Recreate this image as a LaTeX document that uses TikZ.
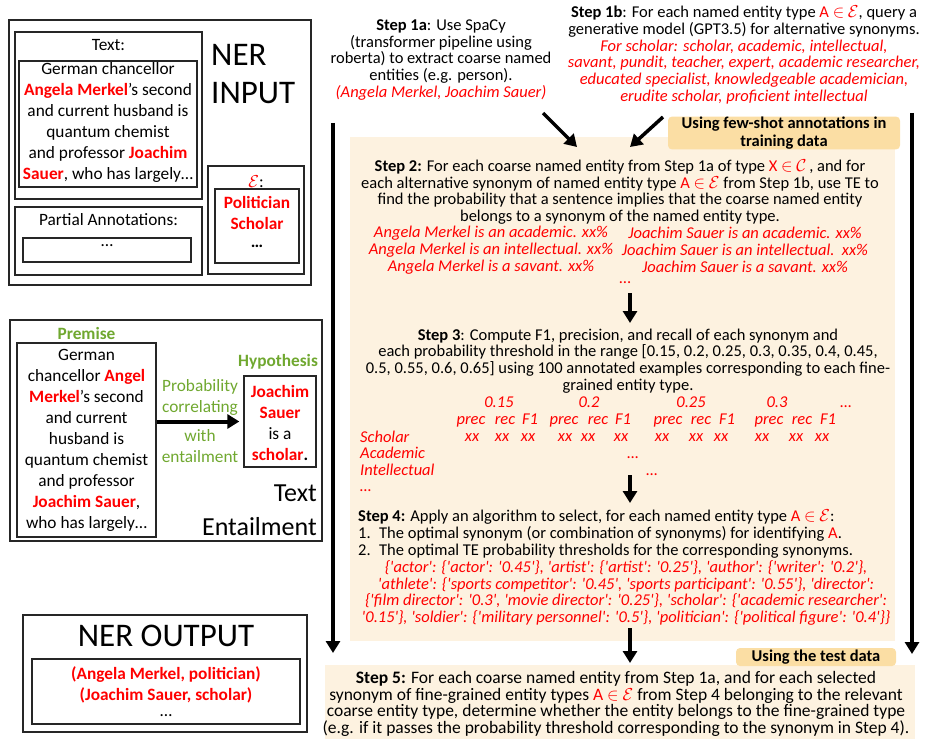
\documentclass[tikz,border=0pt]{standalone}
\usepackage{fontspec}
\setmainfont{Carlito}
\usetikzlibrary{arrows.meta}
\definecolor{beige}{RGB}{253,242,224}
\definecolor{tagor}{RGB}{251,222,164}
\definecolor{grn}{RGB}{112,168,48}
\definecolor{rd}{RGB}{255,0,0}
\newcommand\bodyfs{\fontsize{16.5}{16.7}\selectfont}
\newcommand\leftfs{\fontsize{17.3}{21}\selectfont}
\newcommand\rtx[1]{{\color{rd}#1}}
\newcommand\rbx[1]{{\color{rd}\bfseries #1}}
\newcommand\Aein{\rtx{A $\in$ $\mathcal{E}$}}
\newcommand\qq{\textquotesingle}
\begin{document}
\begin{tikzpicture}[x=1pt,y=-1pt,
  box/.style={draw=black!85, line width=1.3pt, inner sep=0pt},
  txt/.style={inner sep=0pt, align=center, font=\bodyfs},
  ltxt/.style={inner sep=0pt, align=center, font=\leftfs},
  rtab/.style={inner sep=0pt, anchor=base, font=\bodyfs\itshape, text=rd},
  arr/.style={line width=3.5pt, -{Triangle[length=12pt,width=14pt]}},
  tagbox/.style={fill=tagor, rounded corners=4pt, inner sep=0pt, align=center, font=\fontsize{16.5}{18.5}\selectfont\bfseries},
]
\useasboundingbox (0,0) rectangle (925,738);

% ---------- NER INPUT ----------
\node[box, minimum width=302, minimum height=265] (nerin) at (160,152.5) {};
\node[box, minimum width=187, minimum height=167] (textbox) at (108.5,115.5) {};
\node[ltxt] (textlbl) at (108.5,45) {Text:};
\node[box, minimum width=178, minimum height=126] (textin) at (108,124) {};
\node[ltxt] (sent) at (108,122.5) {German chancellor\\\rbx{Angela Merkel}’s second\\and current husband is\\quantum chemist\\and professor \rbx{Joachim}\\\rbx{Sauer}, who has largely\ldots};
\node[anchor=west, align=left, inner sep=0pt, font=\fontsize{33}{38}\selectfont] (nerlbl) at (211,74) {NER\\INPUT};
\node[box, minimum width=187, minimum height=68] (partbox) at (108.5,241) {};
\node[ltxt] (partlbl) at (108.5,220) {Partial Annotations:};
\node[box, minimum width=168, minimum height=24] (partin) at (107,250) {};
\node[ltxt] (partdots) at (107,246) {\ldots};
\node[box, minimum width=96, minimum height=108] (ebox) at (256,220) {};
\node[ltxt] (elbl) at (256,182) {\rtx{$\mathcal{E}$}:};
\node[box, minimum width=84, minimum height=74] (ein) at (257,226) {};
\node[ltxt, font=\leftfs\bfseries, text=rd] (etypes) at (257,212.5) {Politician\\Scholar};
\node[ltxt, font=\leftfs\bfseries] (edots) at (257,246) {\ldots};

% ---------- Text Entailment ----------
\node[box, minimum width=312, minimum height=221] (teout) at (166,430.5) {};
\node[inner sep=0pt, font=\leftfs\bfseries, text=grn] (premlbl) at (86.5,333) {Premise};
\node[box, minimum width=139, minimum height=194] (prem) at (86.5,440) {};
\node[ltxt] (premtxt) at (86.5,440.5) {German\\chancellor \rbx{Angel}\\\rbx{Merkel}’s second\\and current\\husband is\\quantum chemist\\and professor\\\rbx{Joachim Sauer},\\who has largely\ldots};
\node[inner sep=0pt, font=\leftfs\bfseries, text=grn] (hyplbl) at (278,362) {Hypothesis};
\node[box, minimum width=72, minimum height=91] (hyp) at (280,421.5) {};
\node[ltxt] (hyptxt) at (280,422.5) {\rbx{Joachim}\\\rbx{Sauer}\\is a\\\textbf{\rtx{scholar}.}};
\draw[arr, line width=4pt] (prem.east |- hyp.west) -- ([xshift=-4pt]hyp.west);
\node[ltxt, text=grn] (prob) at (200,397.5) {Probability\\correlating};
\node[ltxt, text=grn] (withe) at (200,446.5) {with\\entailment};
\node[anchor=east, align=right, inner sep=0pt, font=\fontsize{26}{34}\selectfont] (telbl) at (317,510) {Text\\Entailment};

% ---------- NER OUTPUT ----------
\node[box, minimum width=284, minimum height=117] (nerout) at (165,673.5) {};
\node[inner sep=0pt, font=\fontsize{33}{38}\selectfont] (noutlbl) at (166,636) {NER OUTPUT};
\node[box, minimum width=268, minimum height=65] (outin) at (166,691.5) {};
\node[ltxt, font=\leftfs\bfseries, text=rd] (outtxt) at (166,684.5) {(Angela Merkel, politician)\\(Joachim Sauer, scholar)};
\node[ltxt] (outdots) at (166,716) {\ldots};

% ---------- right side backgrounds ----------
\node[fill=beige, minimum width=545, minimum height=504, inner sep=0pt] (mainbg) at (622.5,389) {};
\node[fill=beige, minimum width=590, minimum height=75, inner sep=0pt] (s5bg) at (620,702.5) {};
\node[tagbox, minimum width=232, minimum height=32] (tag1) at (784,133) {Using few-shot annotations in\\training data};
\node[tagbox, minimum width=160, minimum height=18] (tag2) at (816,657) {Using the test data};

% ---------- steps ----------
\node[txt] (s1a) at (441,60) {\textbf{Step 1a}: Use SpaCy\\(transformer pipeline using\\roberta) to extract coarse named\\entities (e.g. person).\\\rtx{\itshape (Angela Merkel, Joachim Sauer)}};
\node[txt] (s1b) at (744,55) {\textbf{Step 1b}: For each named entity type \Aein, query a\\generative model (GPT3.5) for alternative synonyms.\\\rtx{\itshape For scholar: scholar, academic, intellectual,}\\\rtx{\itshape savant, pundit, teacher, expert, academic researcher,}\\\rtx{\itshape educated specialist, knowledgeable academician,}\\\rtx{\itshape erudite scholar, proficient intellectual}};
\node[txt] (s2) at (620,192) {\textbf{Step 2:} For each coarse named entity from Step 1a of type \rtx{X $\in$ $\mathcal{C}$}\,, and for\\each alternative synonym of named entity type \Aein{} from Step 1b, use TE to\\find the probability that a sentence implies that the coarse named entity\\belongs to a synonym of the named entity type.};
\node[txt, font=\bodyfs\itshape, text=rd] (s2l) at (491,250) {Angela Merkel is an academic. xx\%\\Angela Merkel is an intellectual. xx\%\\Angela Merkel is a savant. xx\%};
\node[txt, font=\bodyfs\itshape, text=rd] (s2r) at (745,250) {Joachim Sauer is an academic. xx\%\\Joachim Sauer is an intellectual.\ \ xx\%\\Joachim Sauer is a savant. xx\%};
\node[txt, text=rd] (s2dots) at (625,283) {\ldots};
\node[txt] (s3) at (628,361) {\textbf{Step 3}: Compute F1, precision, and recall of each synonym and\\each probability threshold in the range [0.15, 0.2, 0.25, 0.3, 0.35, 0.4, 0.45,\\0.5, 0.55, 0.6, 0.65] using 100 annotated examples corresponding to each fine-\\grained entity type.};
\foreach \x/\t [count=\i] in {499/0.15, 589/0.2, 691/0.25, 777/0.3, 846/\ldots}
  \node[rtab] (th\i) at (\x,407) {\t};
\foreach \x/\t [count=\i] in {471/prec, 505/rec, 530/F1, 564/prec, 598/rec, 623/F1, 668/prec, 701/rec, 727/F1, 769/prec, 802/rec, 828/F1}
  \node[rtab] (pr\i) at (\x,424) {\t};
\foreach \x [count=\i] in {472,502,528,565,588,621,662,696,721,762,796,822}
  \node[rtab] (xx\i) at (\x,441) {xx};
\node[rtab, anchor=base west] (lsch) at (360,442) {Scholar};
\node[rtab, anchor=base west] (laca) at (360,458) {Academic};
\node[rtab, anchor=base west] (lint) at (360,475) {Intellectual};
\node[rtab, anchor=base west] (ldot) at (360,491) {\ldots};
\node[rtab] (adot) at (633,458) {\ldots};
\node[rtab] (idot) at (652,475) {\ldots};
\node[txt, align=left, anchor=west] (s4) at (358,534) {\textbf{Step 4:} Apply an algorithm to select, for each named entity type \Aein:\\\makebox[21pt][l]{1.}The optimal synonym (or combination of synonyms) for identifying \rtx{A}.\\\makebox[21pt][l]{2.}The optimal TE probability thresholds for the corresponding synonyms.};
\node[txt, font=\fontsize{16.5}{16.5}\selectfont\itshape, text=rd] (s4red) at (626,593) {\{\qq actor\qq: \{\qq actor\qq: \qq 0.45\qq\}, \qq artist\qq: \{\qq artist\qq: \qq 0.25\qq\}, \qq author\qq: \{\qq writer\qq: \qq 0.2\qq\},\\\qq athlete\qq: \{\qq sports competitor\qq: \qq 0.45\qq, \qq sports participant\qq: \qq 0.55\qq\}, \qq director\qq:\\\{\qq film director\qq: \qq 0.3\qq, \qq movie director\qq: \qq 0.25\qq\}, \qq scholar\qq: \{\qq academic researcher\qq:\\\qq 0.15\qq\}, \qq soldier\qq: \{\qq military personnel\qq: \qq 0.5\qq\}, \qq politician\qq: \{\qq political figure\qq: \qq 0.4\qq\}\}};
\node[txt, font=\fontsize{17.5}{16.7}\selectfont] (s5) at (616,704) {\textbf{Step 5:} For each coarse named entity from Step 1a, and for each selected\\synonym of fine-grained entity types \Aein{} from Step 4 belonging to the relevant\\coarse entity type, determine whether the entity belongs to the fine-grained type\\(e.g. if it passes the probability threshold corresponding to the synonym in Step 4).};

% ---------- connectors ----------
\coordinate (lbtop) at (333,123); \coordinate (lbend) at (333,653);
\coordinate (rbtop) at (912,113); \coordinate (rbend) at (912,654);
\draw[arr, line width=4pt] (lbtop) -- (lbend);
\draw[arr, line width=4pt] (rbtop) -- (rbend);
\coordinate (a1s) at (543,113); \coordinate (a1e) at (577,147);
\coordinate (b1s) at (663,117); \coordinate (b1e) at (630,147);
\draw[arr] (a1s) -- (a1e);
\draw[arr] (b1s) -- (b1e);
\coordinate (c23s) at (630,293); \coordinate (c23e) at (630,323);
\coordinate (c34s) at (630,475); \coordinate (c34e) at (630,503);
\coordinate (c45s) at (630,628); \coordinate (c45e) at (630,663);
\draw[arr] (c23s) -- (c23e);
\draw[arr] (c34s) -- (c34e);
\draw[arr] (c45s) -- (c45e);
\end{tikzpicture}
\end{document}
